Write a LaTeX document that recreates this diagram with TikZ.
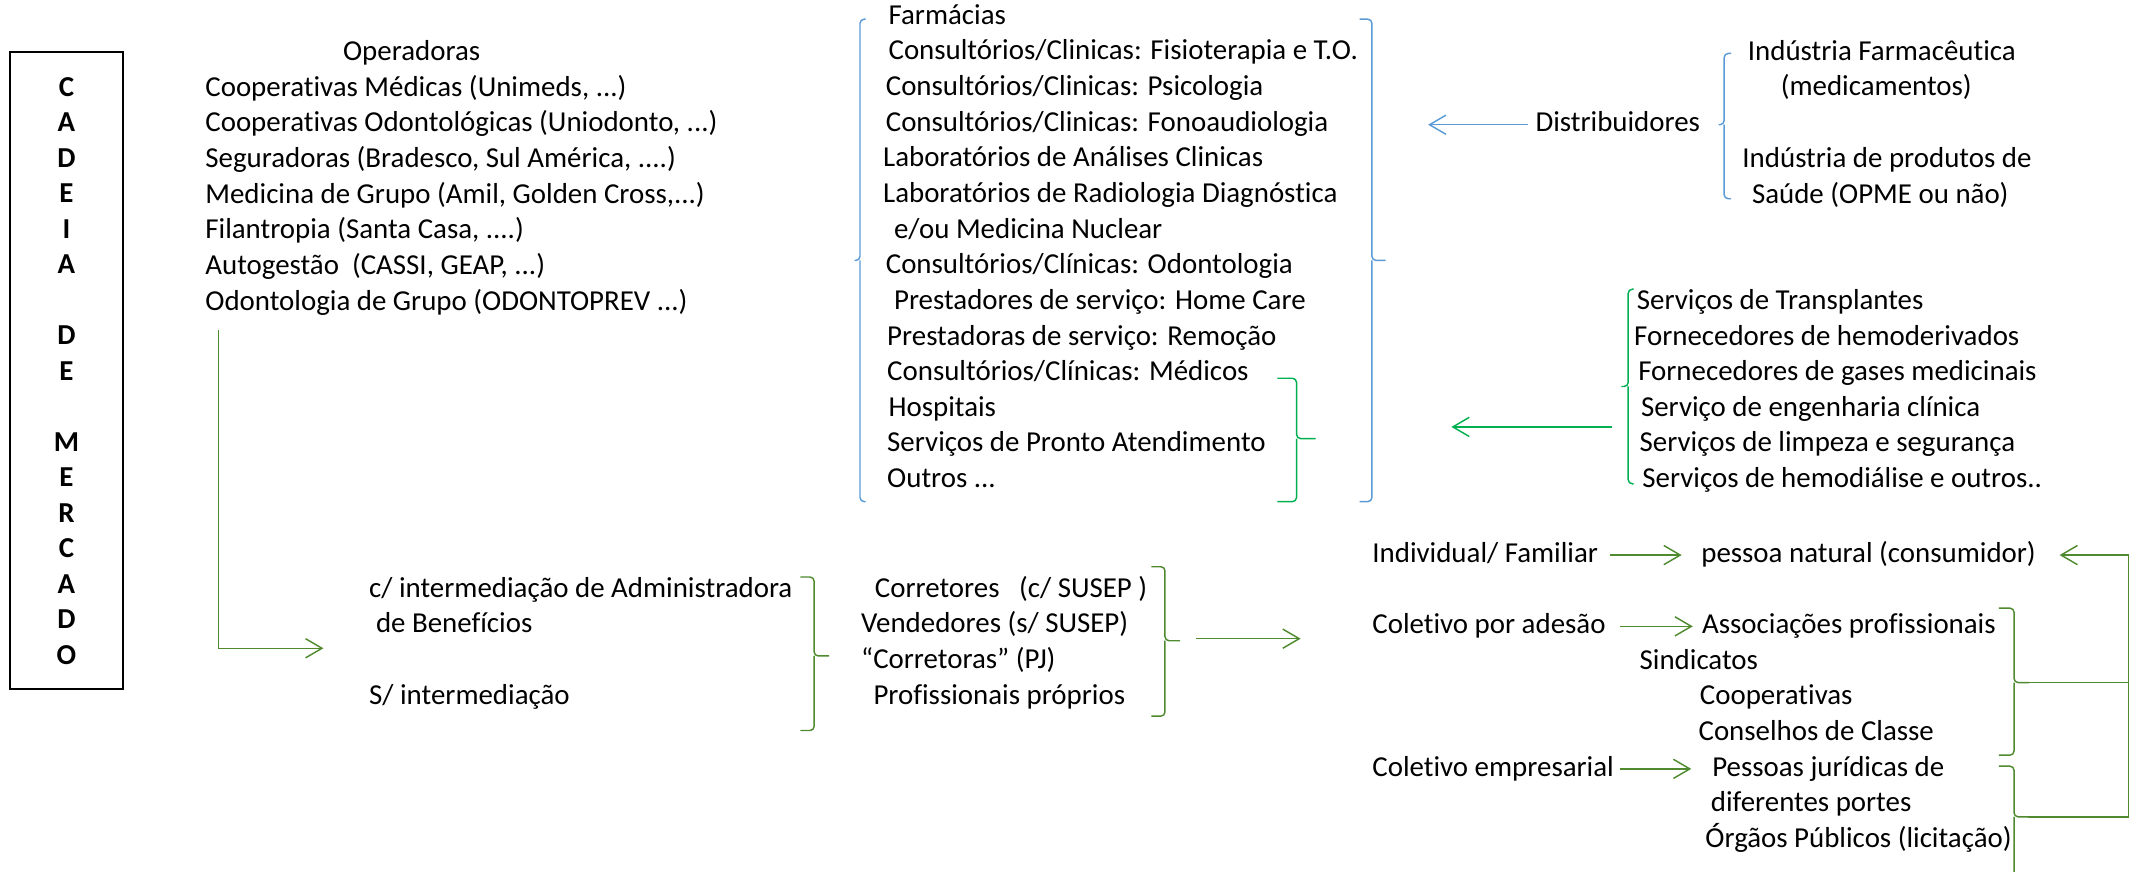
\documentclass[tikz,border=0pt]{standalone}
\usepackage{fontspec}
\setmainfont{Carlito}[Ligatures=NoCommon]
\usetikzlibrary{arrows.meta,calc}
\definecolor{bluebr}{HTML}{5B9BD5}
\definecolor{greenbr}{HTML}{00B050}
\definecolor{olivebr}{HTML}{4F8B2E}
% brace: colour, x, top, mid, bottom, hook (signed), tick (signed)
\newcommand{\brc}[7]{%
  \draw[#1, line width=0.6pt, rounded corners=0.6mm] ({#2+#6},#3) -- (#2,#3) -- (#2,#4) -- ({#2+#7},#4);
  \draw[#1, line width=0.6pt, rounded corners=0.6mm] (#2,#4) -- (#2,#5) -- ({#2+#6},#5);}

\begin{document}
\begin{tikzpicture}[
  x=0.02cm, y=-0.02cm,
  font=\fontsize{12}{14.74}\selectfont,
  >={Straight Barb[length=2.4mm,width=2.8mm]},
  txt/.style={anchor=west, inner sep=0pt, text height=8.5pt, text depth=2.5pt},
  chain/.style={draw, line width=0.8pt, inner sep=0pt, align=center, font=\fontsize{12}{14.74}\selectfont\bfseries,
                minimum width=1.66cm, minimum height=9.3cm},
  barr/.style={->, draw=bluebr, line width=0.6pt},
  garr/.style={->, draw=greenbr, line width=0.6pt},
  oarr/.style={->, draw=olivebr, line width=0.6pt},
  oline/.style={draw=olivebr, line width=0.6pt},
]
\useasboundingbox (0,0) rectangle (1568,636);

% ---- cadeia ----
\node[chain] (cadeia) at (48.5,270.5) {C\\A\\D\\E\\I\\A\\[14.74pt]D\\E\\[14.74pt]M\\E\\R\\C\\A\\D\\O};

% ---- operadoras ----
\node[txt] (opt) at (250,39)  {Operadoras};
\node[txt] (op1) at (149.5,65)  {Cooperativas Médicas (Unimeds, ...)};
\node[txt] (op2) at (149.5,91)  {Cooperativas Odontológicas (Uniodonto, ...)};
\node[txt] (op3) at (149.5,117) {Seguradoras (Bradesco, Sul América, ....)};
\node[txt] (op4) at (149.5,143) {Medicina de Grupo (Amil, Golden Cross,...)};
\node[txt] (op5) at (149.5,169) {Filantropia (Santa Casa, ....)};
\node[txt] (op6) at (149.5,195) {Autogestão\ \ (CASSI, GEAP, ...)};
\node[txt] (op7) at (149.5,221) {Odontologia de Grupo (ODONTOPREV ...)};

% ---- prestadores ----
\node[txt] (pr1)  at (648,12.5)  {Farmácias};
\node[txt] (pr2)  at (648,38.5)  {Consultórios/Clinicas: Fisioterapia e T.O.};
\node[txt] (pr3)  at (646,64.5)  {Consultórios/Clinicas: Psicologia};
\node[txt] (pr4)  at (646,90.5)  {Consultórios/Clinicas: Fonoaudiologia};
\node[txt] (pr5)  at (644,116.5) {Laboratórios de Análises Clinicas};
\node[txt] (pr6)  at (644,142.5) {Laboratórios de Radiologia Diagnóstica};
\node[txt] (pr7)  at (652,168.5) {e/ou Medicina Nuclear};
\node[txt] (pr8)  at (646,194.5) {Consultórios/Clínicas: Odontologia};
\node[txt] (pr9)  at (652,220.5) {Prestadores de serviço: Home Care};
\node[txt] (pr10) at (647,246.5) {Prestadoras de serviço: Remoção};
\node[txt] (pr11) at (647,272.5) {Consultórios/Clínicas: Médicos};
\node[txt] (pr12) at (648,298.5) {Hospitais};
\node[txt] (pr13) at (647,324.5) {Serviços de Pronto Atendimento};
\node[txt] (pr14) at (647,350.5) {Outros ...};

\brc{bluebr}{627.5}{14}{190}{366}{4}{-4}
\brc{bluebr}{1001}{14}{190}{366}{-9}{10}
\brc{greenbr}{946}{276}{320}{366}{-14}{14}

% ---- distribuidores / indústria ----
\node[txt] (distr) at (1120,91) {Distribuidores};
\coordinate (distrtip) at (1042,91);
\node[txt] (ind1) at (1275,39)  {Indústria Farmacêutica};
\node[txt] (ind2) at (1299,64.5) {(medicamentos)};
\node[txt] (ind3) at (1271,117) {Indústria de produtos de};
\node[txt] (ind4) at (1278,143) {Saúde (OPME ou não)};
\brc{bluebr}{1258}{39}{91}{145}{5}{-4}

% ---- serviços de apoio ----
\node[txt] (sv1) at (1194,220.5) {Serviços de Transplantes};
\node[txt] (sv2) at (1192,246.5) {Fornecedores de hemoderivados};
\node[txt] (sv3) at (1195,272.5) {Fornecedores de gases medicinais};
\node[txt] (sv4) at (1197,298.5) {Serviço de engenharia clínica};
\node[txt] (sv5) at (1196,324.5) {Serviços de limpeza e segurança};
\node[txt] (sv6) at (1198,350.5) {Serviços de hemodiálise e outros..};
\brc{greenbr}{1188}{211}{282}{353}{4}{-5}
\coordinate (svtail) at (1176,311.5);
\coordinate (svtip)  at (1059,311.5);

% ---- comercialização ----
\node[txt] (adm1)   at (269,430.5) {c/ intermediação de Administradora};
\node[txt] (adm2)   at (274,456.5) {de Benefícios};
\node[txt] (semint) at (269,508.5) {S/ intermediação};
\brc{olivebr}{594}{421}{478.6}{533}{-10}{11}

\node[txt] (co1) at (638,430.5) {Corretores\ \ \ (c/ SUSEP )};
\node[txt] (co2) at (628,456.5) {Vendedores (s/ SUSEP)};
\node[txt] (co3) at (628,482.5) {“Corretoras” (PJ)};
\node[txt] (co4) at (637,508.5) {Profissionais próprios};
\brc{olivebr}{850}{413.5}{467.5}{522.5}{-10}{11}

\coordinate (opdown) at (159.5,241);
\coordinate (admtip) at (236,473);
\coordinate (cotail) at (873,466);
\coordinate (cotip)  at (949,466);

% ---- contratação ----
\node[txt] (indiv) at (1001,405) {Individual/ Familiar};
\node[txt] (pnat)  at (1241,405) {pessoa natural (consumidor)};
\node[txt] (ades)  at (1001,457) {Coletivo por adesão};
\node[txt] (assoc) at (1241.6,457) {Associações profissionais};
\node[txt] (sind)  at (1196,483) {Sindicatos};
\node[txt] (coop)  at (1240,509) {Cooperativas};
\node[txt] (cons)  at (1239,535) {Conselhos de Classe};
\node[txt] (empr)  at (1001,561) {Coletivo empresarial};
\node[txt] (pj1)   at (1249,561) {Pessoas jurídicas de};
\node[txt] (pj2)   at (1248,587) {diferentes portes};
\node[txt] (orgp)  at (1244,613) {Órgãos Públicos (licitação)};
\brc{olivebr}{1469.5}{443.7}{498}{551}{-11}{11}
\brc{olivebr}{1469.5}{559}{596}{650}{-11}{11}
\coordinate (rt1)  at (1480,498);
\coordinate (rt2)  at (1480,596);
\coordinate (rail) at (1553,405);

% ---- arrows ----
\draw[barr, shorten <=1mm] (distr) -- (distrtip);
\draw[garr] (svtail) -- (svtip);
\draw[oarr] (opdown) |- (admtip);
\draw[oarr] (cotail) -- (cotip);
\draw[oarr, shorten <=1.6mm, shorten >=2.8mm] (indiv) -- (pnat);
\draw[oarr, shorten <=2mm, shorten >=1.3mm] (ades) -- (assoc);
\draw[oarr, shorten <=0.8mm, shorten >=3mm] (empr) -- (pj1);
\draw[oline] (rt1) -- (rt1 -| rail);
\draw[oarr, shorten >=3.4mm] (rt2) -| (rail) -- (pnat.east);

\end{tikzpicture}
\end{document}
